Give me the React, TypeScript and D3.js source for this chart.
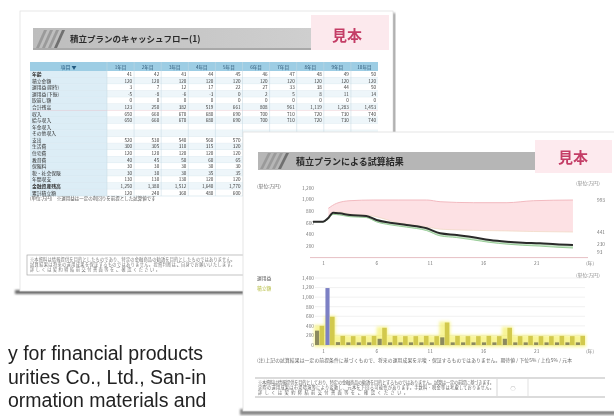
import React from "react";
import * as d3 from "d3";

// ---------- back document: cash-flow table ----------
const tableColumns = ["1年目", "2年目", "3年目", "4年目", "5年目", "6年目", "7年目", "8年目", "9年目", "10年目"];
const tableRowLabels = [
  "年齢", "積立金額", "運用益(期待)", "運用益(下振)", "取崩し額", "合計残高", "収入", "給与収入", "年金収入",
  "その他収入", "支出", "生活費", "住宅費", "教育費", "保険料", "税・社会保険", "年間収支", "金融資産残高", "累計積立額",
];
const tableValues = [
  ["41", "42", "43", "44", "45", "46", "47", "48", "49", "50"],
  ["120", "120", "120", "120", "120", "120", "120", "120", "120", "120"],
  ["3", "7", "12", "17", "22", "27", "33", "38", "44", "50"],
  ["-5", "-8", "-6", "-3", "0", "2", "5", "8", "11", "14"],
  ["0", "0", "0", "0", "0", "0", "0", "0", "0", "0"],
  ["123", "250", "382", "519", "661", "808", "961", "1,119", "1,283", "1,453"],
  ["650", "660", "670", "680", "690", "700", "710", "720", "730", "740"],
  ["650", "660", "670", "680", "690", "700", "710", "720", "730", "740"],
  ["", "", "", "", "", "", "", "", "", ""],
  ["", "", "", "", "", "", "", "", "", ""],
  ["520", "530", "540", "560", "570", "580", "590", "600", "610", "620"],
  ["300", "305", "310", "315", "320", "325", "330", "335", "340", "345"],
  ["120", "120", "120", "120", "120", "120", "120", "120", "120", "120"],
  ["40", "45", "50", "60", "65", "70", "75", "80", "85", "90"],
  ["30", "30", "30", "30", "30", "30", "30", "30", "30", "30"],
  ["30", "30", "30", "35", "35", "35", "35", "35", "35", "35"],
  ["130", "130", "130", "120", "120", "120", "120", "120", "120", "120"],
  ["1,250", "1,380", "1,512", "1,640", "1,770", "1,903", "2,038", "2,176", "2,316", "2,459"],
  ["120", "240", "360", "480", "600", "720", "840", "960", "1,080", "1,200"],
];

// ---------- front document: line chart ----------
const lineYears = [0, 0.94, 1.41, 1.88, 2.5, 3.47, 5.0, 5.97, 7.23, 8.79, 10.67, 11.93, 13.5, 15.05, 16.6, 18.2, 19.7, 21.3, 22.8, 24.4];
const resultValues = [619, 619, 677, 774, 764, 734, 717, 648, 601, 562, 505, 419, 390, 350, 303, 274, 257, 247, 229, 217];
const lowerValues = [619, 615, 660, 745, 735, 705, 690, 615, 565, 525, 465, 375, 345, 305, 262, 232, 212, 198, 180, 165];
const bandYears = [1.44, 2.22, 3.47, 5.66, 8, 10.67, 11.93, 15.05, 18.2, 20.7, 24.4];
const bandUpper = [850, 936, 981, 993, 993, 993, 964, 947, 947, 981, 993];
const bandLower = [700, 790, 750, 715, 600, 530, 490, 470, 460, 450, 441];
const lineTicksY = [200, 400, 600, 800, 1000, 1200];
const lineTickLabelsY = ["200", "400", "600", "800", "1,000", "1,200"];
const yearTicks = [1, 6, 11, 16, 21];
const yearTickLabels = ["1", "6", "11", "16", "21"];
const rightLabelValues = [993, 441, 230, 93];
const rightLabels = ["993", "441", "230", "93"];

// ---------- front document: bar chart ----------
const barPeriods = ["1", "2", "3", "4", "5", "6", "7", "8", "9", "10", "11", "12", "13", "14", "15", "16", "17", "18", "19", "20", "21", "22", "23", "24", "25", "26"];
const blueValues = [300, 1190, 60, 55, 55, 55, 130, 55, 55, 55, 55, 55, 160, 55, 55, 55, 55, 55, 130, 55, 55, 55, 55, 55, 55, 55];
const yellowValues = [400, 590, 190, 185, 185, 190, 360, 190, 185, 185, 190, 185, 470, 190, 185, 185, 190, 185, 360, 185, 190, 185, 185, 190, 185, 190];
const barTicksY = [0, 200, 400, 600, 800, 1000, 1200, 1400];
const barTickLabelsY = ["0", "200", "400", "600", "800", "1,000", "1,200", "1,400"];

const englishLines = ["y for financial products", "urities Co., Ltd., San-in", "ormation materials and"];

const JP = "'Noto Sans CJK JP', 'Noto Sans', sans-serif";

function Logo({ x, y, h }: { x: number; y: number; h: number }) {
  const stripes = [0, 6, 12, 18];
  return (
    <g>
      {stripes.map((s, i) => (
        <polygon
          key={i}
          points={`${x + s},${y + h} ${x + s + 8},${y} ${x + s + 11},${y} ${x + s + 3},${y + h}`}
          fill={i === 3 ? "#6f6f6f" : "#9a9a9a"}
        />
      ))}
    </g>
  );
}

export default function App() {
  // table geometry
  const tX0 = 30, tLabelW = 77, tX1 = 378, tY0 = 62, headH = 9;
  const colW = (tX1 - tX0 - tLabelW) / tableColumns.length;
  const rowH = (196 - (tY0 + headH)) / tableRowLabels.length;
  // the front sheet covers this corner of the back sheet
  const hidden = (cx: number, cy: number) => cx > 240 && cy > 130;

  // line chart scales
  const x = d3.scaleLinear().domain([0, 26]).range([313, 590]);
  const y = d3.scaleLinear().domain([0, 1200]).range([257.6, 188]);
  const bandArea = d3.area<number>().x((_, i) => x(bandYears[i])).y0((_, i) => y(bandLower[i])).y1((d) => y(d)).curve(d3.curveMonotoneX);
  const bandTop = d3.line<number>().x((_, i) => x(bandYears[i])).y((d) => y(d)).curve(d3.curveMonotoneX);
  const greenArea = d3.area<number>().x((_, i) => x(lineYears[i])).y0((_, i) => y(lowerValues[i])).y1((d) => y(d)).curve(d3.curveMonotoneX);
  const resultLine = d3.line<number>().x((_, i) => x(lineYears[i])).y((d) => y(d)).curve(d3.curveMonotoneX);

  // bar chart scales
  const bx = d3.scaleBand<string>().domain(barPeriods).range([315, 585]).paddingInner(0.12);
  const by = d3.scaleLinear().domain([0, 1400]).range([345, 278]);
  const bw = bx.bandwidth();

  return (
    <svg width={614} height={416} style={{ position: "absolute", left: 0, top: 0, background: "#fff" }}>
      <defs>
        <filter id="soft" x="-5%" y="-5%" width="110%" height="110%">
          <feGaussianBlur stdDeviation="0.75" />
        </filter>
        <filter id="shadow" x="-10%" y="-50%" width="120%" height="200%">
          <feGaussianBlur stdDeviation="1.2" />
        </filter>
        <filter id="glow" x="-50%" y="-50%" width="200%" height="200%">
          <feGaussianBlur stdDeviation="1.4" />
        </filter>
        <filter id="txt">
          <feGaussianBlur stdDeviation="0.35" />
        </filter>
        <linearGradient id="hdr" x1="0" x2="1" y1="0" y2="0">
          <stop offset="0" stopColor="#bdbdbd" />
          <stop offset="1" stopColor="#cfcfcf" />
        </linearGradient>
      </defs>

      {/* ================= back document ================= */}
      <g>
        <rect x={15} y={290} width={232} height={4} fill="#6a6a6a" filter="url(#shadow)" />
        <rect x={392} y={13} width={3} height={122} fill="#8a8a8a" filter="url(#shadow)" />
      </g>
      <g filter="url(#soft)">
        <rect x={20} y={11} width={373} height={280} fill="#fff" stroke="#e2e2e2" strokeWidth={0.8} />
        {/* header */}
        <rect x={33} y={28} width={278} height={22} fill="url(#hdr)" />
        <rect x={33} y={48} width={278} height={2} fill="#a9a9a9" />
        <Logo x={36} y={30} h={18} />
        <text x={70} y={42} fontFamily={JP} fontSize={8.5} fontWeight="bold" fill="#2a2a2a">
          積立プランのキャッシュフロー(1)
        </text>
        <rect x={311} y={15} width={78} height={35} fill="#fce9ed" />
        <text x={347} y={41} textAnchor="middle" fontFamily={JP} fontSize={15} fontWeight="bold" fill="#c43d66">
          見本
        </text>

        {/* table header */}
        <rect x={tX0} y={tY0} width={tX1 - tX0} height={headH} fill="#9dcde4" />
        <text x={tX0 + tLabelW / 2} y={tY0 + 6.5} textAnchor="middle" fontFamily={JP} fontSize={5} fill="#245a80">
          項目 ▼
        </text>
        {tableColumns.map((c, j) => (
          <text key={c} x={tX0 + tLabelW + colW * (j + 0.5)} y={tY0 + 6.5} textAnchor="middle" fontFamily={JP} fontSize={4.6} fill="#2b5574">
            {c}
          </text>
        ))}
        {/* table rows */}
        {tableRowLabels.map((lab, i) => {
          const ry = tY0 + headH + i * rowH;
          return (
            <g key={lab}>
              <rect x={tX0} y={ry} width={tLabelW} height={rowH} fill="#dcedf6" />
              <rect x={tX0 + tLabelW} y={ry} width={tX1 - tX0 - tLabelW} height={rowH} fill={i % 2 === 0 ? "#ffffff" : "#eef6fa"} />
              <line x1={tX0} x2={tX1} y1={ry + rowH} y2={ry + rowH} stroke={i === 5 ? "#e3a3ad" : "#cfe0ea"} strokeWidth={0.6} />
              <text x={tX0 + 2} y={ry + rowH - 1.5} fontFamily={JP} fontSize={4.8} fontWeight={i === 0 || i === 17 ? "bold" : "normal"} fill="#333">
                {lab}
              </text>
              {tableValues[i].map((v, j) => {
                const cx = tX0 + tLabelW + colW * j;
                if (hidden(cx, ry)) return null;
                return (
                  <text key={j} x={cx + colW - 2} y={ry + rowH - 1.5} textAnchor="end" fontFamily={JP} fontSize={4.6} fill="#3a3a3a">
                    {v}
                  </text>
                );
              })}
            </g>
          );
        })}
        {tableColumns.map((c, j) => (
          <line key={c} x1={tX0 + tLabelW + colW * j} x2={tX0 + tLabelW + colW * j} y1={tY0} y2={196} stroke="#c5d8e3" strokeWidth={0.5} />
        ))}
        <text x={30} y={200} fontFamily={JP} fontSize={4.5} fill="#555">
          (単位:万円)　※運用益は一定の利回りを前提とした試算値です
        </text>
        {/* note box */}
        <rect x={27} y={255} width={356} height={20} fill="none" stroke="#a8a8a8" strokeWidth={0.7} />
        <text x={30} y={261} fontFamily={JP} fontSize={4.2} fill="#777" textLength={205}>
          ※本資料は情報提供を目的としたものであり、特定の金融商品の勧誘を目的としたものではありません。
        </text>
        <text x={30} y={266} fontFamily={JP} fontSize={4.2} fill="#777" textLength={205}>
          　試算結果は将来の運用成果を保証するものではありません。投資判断はご自身でお願いいたします。
        </text>
        <text x={30} y={271} fontFamily={JP} fontSize={4.2} fill="#777" textLength={130}>
          　詳しくは契約締結前交付書面等をご確認ください。
        </text>
      </g>

      {/* ================= English text ================= */}
      <g filter="url(#txt)">
        {englishLines.map((t, i) => (
          <text key={t} x={8} y={360 + i * 23.5} fontFamily="'Liberation Sans', Arial, sans-serif" fontSize={19.5} fill="#222">
            {t}
          </text>
        ))}
      </g>

      {/* ================= front document ================= */}
      <rect x={240} y={409} width={380} height={6} fill="#8a8a8a" filter="url(#shadow)" />
      <g filter="url(#soft)">
        <rect x={243} y={132} width={376} height={279} fill="#fff" stroke="#dedede" strokeWidth={0.8} />
        {/* header */}
        <rect x={258} y={152} width={277} height={18} fill="#b6b6b6" />
        <Logo x={260} y={153} h={16} />
        <text x={296} y={164.5} fontFamily={JP} fontSize={9} fontWeight="bold" fill="#2a2a2a">
          積立プランによる試算結果
        </text>
        <rect x={535} y={140} width={77} height={33} fill="#fdeaee" />
        <text x={573} y={163} textAnchor="middle" fontFamily={JP} fontSize={15} fontWeight="bold" fill="#c43d66">
          見本
        </text>

        {/* line chart */}
        <text x={257} y={188} fontFamily={JP} fontSize={4.8} fill="#666">(単位:万円)</text>
        <text x={576} y={185} fontFamily={JP} fontSize={4.8} fill="#888">(単位:万円)</text>
        {lineTicksY.map((t, i) => (
          <text key={t} x={314} y={y(t) + 1.8} textAnchor="end" fontFamily={JP} fontSize={4.8} fill="#777">
            {lineTickLabelsY[i]}
          </text>
        ))}
        <path d={bandArea(bandUpper) || ""} fill="#fde1e4" />
        <path d={bandTop(bandUpper) || ""} fill="none" stroke="#f1b3ba" strokeWidth={0.9} />
        <path d={bandTop(bandLower) || ""} fill="none" stroke="#efd7c0" strokeWidth={0.7} />
        <path d={greenArea(resultValues) || ""} fill="#cbe6cb" />
        <path d={resultLine(lowerValues) || ""} fill="none" stroke="#86c486" strokeWidth={0.8} />
        <path d={resultLine(resultValues) || ""} fill="none" stroke="#2b2b2b" strokeWidth={2} />
        <line x1={310} x2={588} y1={257.6} y2={257.6} stroke="#e6bfc4" strokeWidth={1} />
        {yearTicks.map((t, i) => (
          <text key={t} x={x(t)} y={265} textAnchor="middle" fontFamily={JP} fontSize={4.8} fill="#777">
            {yearTickLabels[i]}
          </text>
        ))}
        <text x={x(26)} y={265} textAnchor="middle" fontFamily={JP} fontSize={4.8} fill="#777">(年)</text>
        {rightLabelValues.map((v, i) => (
          <text key={v} x={597} y={y(v) + 1.8} fontFamily={JP} fontSize={4.8} fill="#777">
            {rightLabels[i]}
          </text>
        ))}

        {/* bar chart */}
        <text x={257} y={280} fontFamily={JP} fontSize={4.8} fill="#555">運用益</text>
        <text x={257} y={290} fontFamily={JP} fontSize={4.8} fill="#b3bb3a">積立額</text>
        <text x={576} y={277} fontFamily={JP} fontSize={4.8} fill="#888">(単位:万円)</text>
        {barTicksY.map((t, i) => (
          <g key={t}>
            <line x1={315} x2={585} y1={by(t)} y2={by(t)} stroke={t === 0 ? "#c8c8c8" : "#e8e8e8"} strokeWidth={0.6} />
            <text x={314} y={by(t) + 1.8} textAnchor="end" fontFamily={JP} fontSize={4.8} fill="#777">
              {barTickLabelsY[i]}
            </text>
          </g>
        ))}
        <g filter="url(#glow)">
          {barPeriods.map((p, i) => (
            <rect key={p} x={(bx(p) || 0) - 1} y={by(yellowValues[i]) - 1} width={bw + 2} height={345 - by(yellowValues[i]) + 3} fill="#f3ee55" opacity={0.6} />
          ))}
        </g>
        {barPeriods.map((p, i) => (
          <g key={p}>
            <rect x={(bx(p) || 0) + bw * 0.5} y={by(yellowValues[i])} width={bw * 0.5} height={345 - by(yellowValues[i])} fill="#d2c94e" />
            <rect x={bx(p) || 0} y={by(blueValues[i])} width={bw * 0.45} height={345 - by(blueValues[i])} fill={i === 1 ? "#7c80c4" : "#8c8a5e"} />
          </g>
        ))}
        {yearTicks.map((t, i) => (
          <text key={t} x={x(t)} y={353} textAnchor="middle" fontFamily={JP} fontSize={4.8} fill="#777">
            {yearTickLabels[i]}
          </text>
        ))}
        <text x={x(26)} y={353} textAnchor="middle" fontFamily={JP} fontSize={4.8} fill="#777">(年)</text>

        {/* notes */}
        <text x={257} y={362} fontFamily={JP} fontSize={4.8} fill="#666" textLength={315}>
          (注)上記の試算結果は一定の前提条件に基づくもので、将来の運用成果を示唆・保証するものではありません。期待値 / 下位5% / 上位5% / 元本
        </text>
        <line x1={255} x2={605} y1={378} y2={378} stroke="#9a9a9a" strokeWidth={0.7} />
        <line x1={255} x2={605} y1={397} y2={397} stroke="#9a9a9a" strokeWidth={0.7} />
        <line x1={497} x2={497} y1={379} y2={396} stroke="#bbb" strokeWidth={0.6} />
        <line x1={528} x2={528} y1={379} y2={396} stroke="#ccc" strokeWidth={0.6} />
        <text x={258} y={384} fontFamily={JP} fontSize={4.2} fill="#666" textLength={236}>
          ※本資料は情報提供を目的としており、特定の金融商品の勧誘を目的とするものではありません。試算は一定の前提に基づきます。
        </text>
        <text x={258} y={389} fontFamily={JP} fontSize={4.2} fill="#666" textLength={236}>
          　実際の運用成果は市場環境等により変動し、元本を下回る可能性があります。手数料・税金等は考慮しておりません。
        </text>
        <text x={258} y={394} fontFamily={JP} fontSize={4.2} fill="#666" textLength={150}>
          　詳しくは契約締結前交付書面等をご確認ください。
        </text>
        <text x={513} y={390} textAnchor="middle" fontFamily={JP} fontSize={5} fill="#888">○</text>
      </g>
    </svg>
  );
}
